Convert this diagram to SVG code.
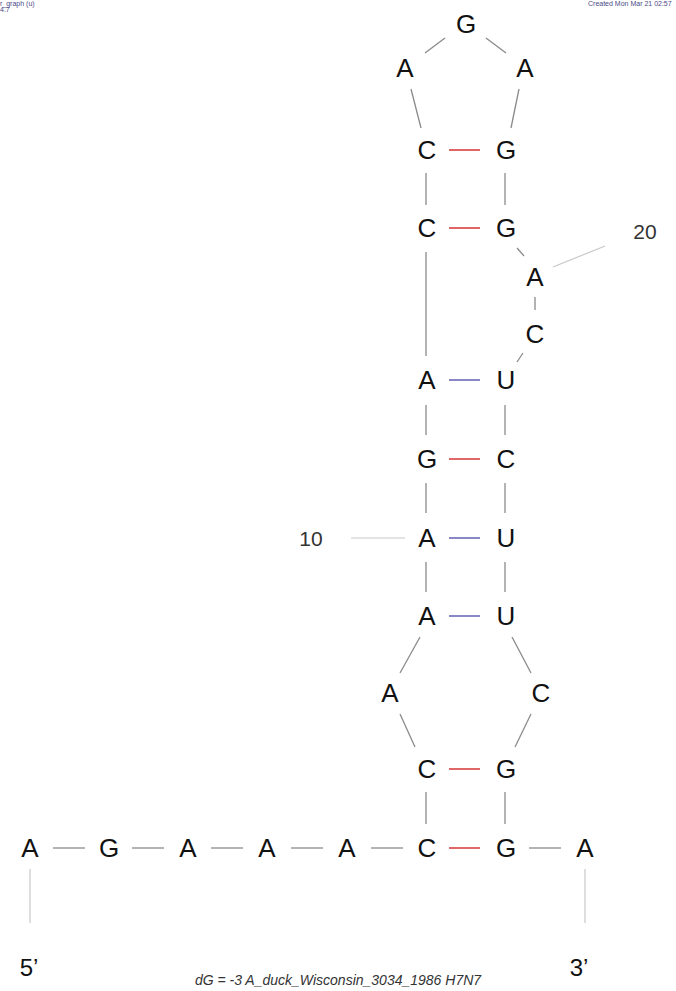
<svg xmlns="http://www.w3.org/2000/svg" width="676" height="991" viewBox="0 0 676 991">
<style>
.n{font-family:"Liberation Sans",Arial,sans-serif;font-size:26px;fill:#111;text-anchor:middle}
.b{stroke:#8a8a8a;stroke-width:1.3;fill:none}
.gc{stroke:#d94040;stroke-width:1.6}
.au{stroke:#6a6ab8;stroke-width:1.6}
.lab{font-family:"Liberation Sans",Arial,sans-serif;font-size:21px;fill:#333;text-anchor:middle}
.tick{stroke:#c8c8c8;stroke-width:1.2}
.hdr{font-family:"Liberation Sans",Arial,sans-serif;font-size:7px;fill:#4b4b86}
</style>
<rect width="676" height="991" fill="#ffffff"/>
<text class="hdr" x="0" y="6">r_graph (u)</text>
<text class="hdr" x="0" y="12">4.7</text>
<text class="hdr" x="588" y="6">Created Mon Mar 21 02:57</text>
<g id="connectors">
  <line class="b" x1="425" y1="53" x2="445" y2="38"/>
  <line class="b" x1="486" y1="38" x2="506" y2="53"/>
  <line class="b" x1="411" y1="89" x2="421" y2="128"/>
  <line class="b" x1="519" y1="89" x2="511" y2="128"/>
  <line class="gc" x1="449" y1="150" x2="480" y2="150"/>
  <line class="b" x1="426" y1="173" x2="426" y2="205"/>
  <line class="b" x1="505" y1="173" x2="505" y2="205"/>
  <line class="gc" x1="449" y1="228" x2="480" y2="228"/>
  <line class="b" x1="426" y1="252" x2="426" y2="356"/>
  <line class="b" x1="517" y1="248" x2="524" y2="256"/>
  <line class="b" x1="535" y1="297" x2="535" y2="310"/>
  <line class="b" x1="523" y1="353" x2="517" y2="362"/>
  <line class="tick" x1="553" y1="267" x2="605" y2="246"/>
  <line class="au" x1="449" y1="380" x2="480" y2="380"/>
  <line class="b" x1="426" y1="405" x2="426" y2="435"/>
  <line class="b" x1="505" y1="405" x2="505" y2="435"/>
  <line class="gc" x1="449" y1="459" x2="480" y2="459"/>
  <line class="b" x1="426" y1="483" x2="426" y2="513"/>
  <line class="b" x1="505" y1="483" x2="505" y2="513"/>
  <line class="au" x1="449" y1="538" x2="480" y2="538"/>
  <line class="tick" x1="351" y1="538" x2="405" y2="538"/>
  <line class="b" x1="426" y1="562" x2="426" y2="592"/>
  <line class="b" x1="505" y1="562" x2="505" y2="592"/>
  <line class="au" x1="449" y1="616" x2="480" y2="616"/>
  <line class="b" x1="420" y1="637" x2="400" y2="673"/>
  <line class="b" x1="512" y1="637" x2="531" y2="673"/>
  <line class="b" x1="400" y1="714" x2="415" y2="747"/>
  <line class="b" x1="531" y1="714" x2="515" y2="747"/>
  <line class="gc" x1="449" y1="769" x2="480" y2="769"/>
  <line class="b" x1="426" y1="792" x2="426" y2="824"/>
  <line class="b" x1="505" y1="792" x2="505" y2="824"/>
  <line class="b" x1="53" y1="848" x2="85" y2="848"/>
  <line class="b" x1="132" y1="848" x2="164" y2="848"/>
  <line class="b" x1="211" y1="848" x2="243" y2="848"/>
  <line class="b" x1="291" y1="848" x2="323" y2="848"/>
  <line class="b" x1="371" y1="848" x2="403" y2="848"/>
  <line class="gc" x1="449" y1="848" x2="480" y2="848"/>
  <line class="b" x1="529" y1="848" x2="561" y2="848"/>
  <line class="tick" x1="30" y1="869" x2="30" y2="923"/>
  <line class="tick" x1="585" y1="869" x2="585" y2="923"/>
</g>
<g id="n16"><text class="n" x="466" y="33">G</text></g>
<g id="n15"><text class="n" x="405" y="77">A</text></g>
<g id="n17"><text class="n" x="525" y="77">A</text></g>
<g id="n14"><text class="n" x="427" y="159">C</text></g>
<g id="n18"><text class="n" x="506" y="159">G</text></g>
<g id="n13"><text class="n" x="427" y="237">C</text></g>
<g id="n19"><text class="n" x="506" y="237">G</text></g>
<g id="n20"><text class="n" x="535" y="286">A</text></g>
<g id="n21"><text class="n" x="535" y="343">C</text></g>
<g id="n12"><text class="n" x="427" y="389">A</text></g>
<g id="n22"><text class="n" x="506" y="389">U</text></g>
<g id="n11"><text class="n" x="427" y="468">G</text></g>
<g id="n23"><text class="n" x="506" y="468">C</text></g>
<g id="n10"><text class="n" x="427" y="547">A</text></g>
<g id="n24"><text class="n" x="506" y="547">U</text></g>
<g id="n9"><text class="n" x="427" y="625">A</text></g>
<g id="n25"><text class="n" x="506" y="625">U</text></g>
<g id="n8"><text class="n" x="390" y="702">A</text></g>
<g id="n26"><text class="n" x="541" y="702">C</text></g>
<g id="n7"><text class="n" x="427" y="778">C</text></g>
<g id="n27"><text class="n" x="506" y="778">G</text></g>
<g id="n1"><text class="n" x="30" y="857">A</text></g>
<g id="n2"><text class="n" x="109" y="857">G</text></g>
<g id="n3"><text class="n" x="188" y="857">A</text></g>
<g id="n4"><text class="n" x="267" y="857">A</text></g>
<g id="n5"><text class="n" x="347" y="857">A</text></g>
<g id="n6"><text class="n" x="427" y="857">C</text></g>
<g id="n28"><text class="n" x="506" y="857">G</text></g>
<g id="n29"><text class="n" x="585" y="857">A</text></g>
<g id="labels">
  <text class="lab" x="311" y="546">10</text>
  <text class="lab" x="645" y="239">20</text>
  <text class="n" x="29" y="976" style="font-size:24px">5’</text>
  <text class="n" x="579" y="976" style="font-size:24px">3’</text>
  <text x="338" y="985" style="font-family:'Liberation Sans',Arial,sans-serif;font-size:14px;font-style:italic;fill:#333;text-anchor:middle">dG = -3 A_duck_Wisconsin_3034_1986 H7N7</text>
</g>
</svg>
